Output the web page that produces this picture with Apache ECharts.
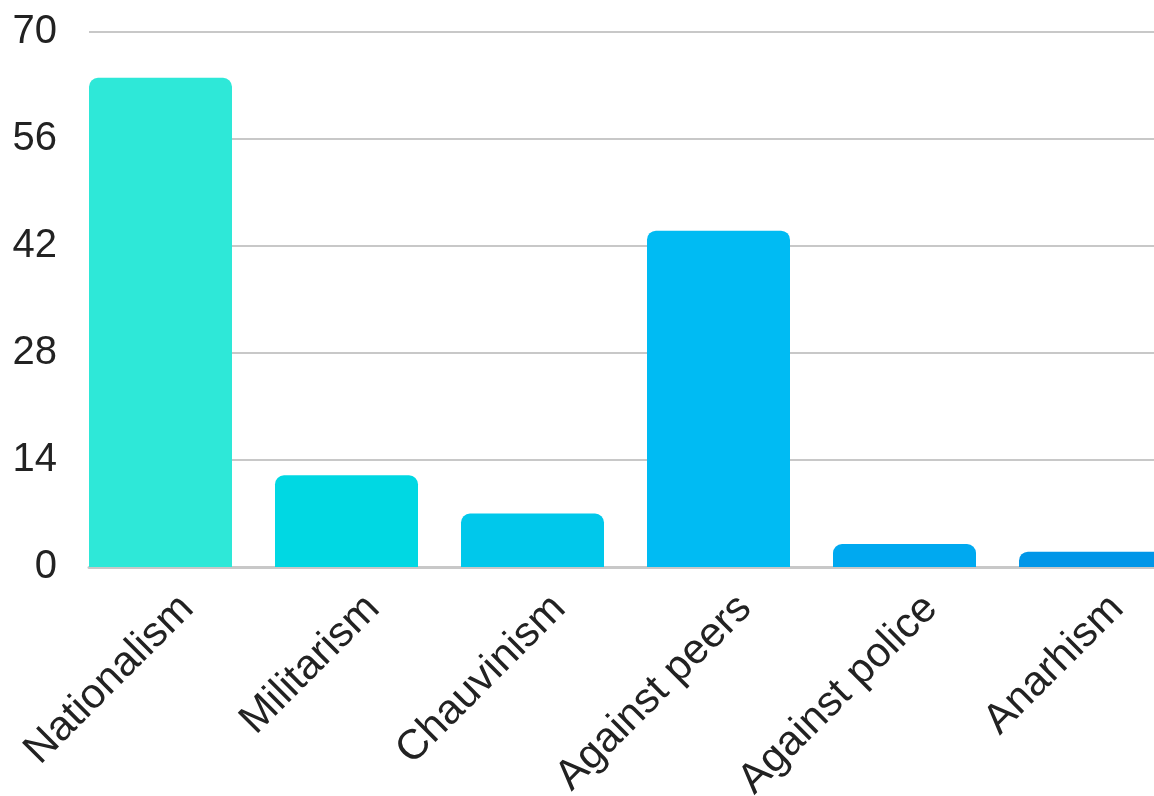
<!DOCTYPE html>
<html>
<head>
<meta charset="utf-8">
<style>
  html, body { margin: 0; padding: 0; background: #ffffff; }
  #chart { width: 1154px; height: 796px; }
</style>
<script src="https://cdn.jsdelivr.net/npm/echarts@6/dist/echarts.min.js"></script>
</head>
<body>
<div id="chart"></div>
<script>
// Motives, counted per category
const categories = ['Nationalism', 'Militarism', 'Chauvinism', 'Against peers', 'Against police', 'Anarhism'];
const counts = [64, 12, 7, 44, 3, 2];
const barColors = ['#2ee8d8', '#00d8e3', '#00c8eb', '#00bbf3', '#00a9f0', '#0096e8'];
const yTicks = { min: 0, max: 70, interval: 14 };

const chart = echarts.init(document.getElementById('chart'), null, { renderer: 'canvas' });

const fontFamily = '"Liberation Sans", Arial, sans-serif';
const textColor = '#222222';

chart.setOption({
  animation: false,
  backgroundColor: '#ffffff',
  grid: {
    left: 89, top: 32, bottom: 229, width: 1116,
    containLabel: false,
    outerBoundsMode: 'none'
  },
  xAxis: {
    type: 'category',
    data: categories,
    axisTick: { show: false },
    axisLine: { show: true, lineStyle: { color: '#c8c8c8', width: 3 } },
    axisLabel: {
      rotate: 45, margin: 40, interval: 0,
      padding: [0, -7, 0, 0],
      fontFamily: fontFamily, fontSize: 42, color: textColor
    }
  },
  yAxis: {
    type: 'value',
    min: yTicks.min,
    max: yTicks.max,
    interval: yTicks.interval,
    axisLine: { show: false },
    axisTick: { show: false },
    splitLine: { lineStyle: { color: '#c8c8c8', width: 2 } },
    axisLabel: { margin: 32, fontFamily: fontFamily, fontSize: 40, color: textColor }
  },
  series: [
    {
      name: 'Count',
      type: 'bar',
      barWidth: 143,
      barGap: '0%',
      barCategoryGap: '0%',
      data: counts.map((v, i) => ({
        value: v,
        itemStyle: { color: barColors[i], borderRadius: [9, 9, 0, 0] }
      })),
      z: 1
    },
    {
      // empty slot that keeps the gap to the right of each bar
      name: 'gap',
      type: 'bar',
      barWidth: 43,
      barGap: '0%',
      data: [],
      silent: true
    }
  ]
});
</script>
</body>
</html>
